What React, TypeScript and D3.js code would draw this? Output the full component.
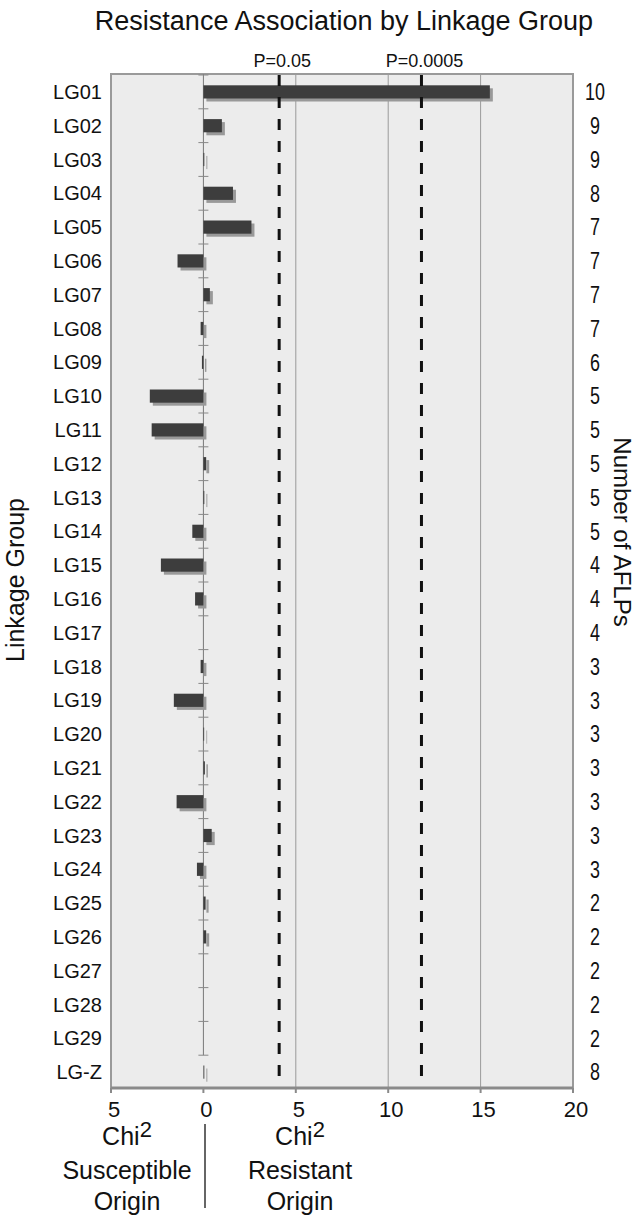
import React from 'react';
import * as d3 from 'd3';

// linkage groups, top to bottom
const groups = [
  'LG01', 'LG02', 'LG03', 'LG04', 'LG05', 'LG06', 'LG07', 'LG08', 'LG09', 'LG10',
  'LG11', 'LG12', 'LG13', 'LG14', 'LG15', 'LG16', 'LG17', 'LG18', 'LG19', 'LG20',
  'LG21', 'LG22', 'LG23', 'LG24', 'LG25', 'LG26', 'LG27', 'LG28', 'LG29', 'LG-Z',
];
// signed Chi2 (negative = susceptible origin)
const chiValues = [
  15.5, 1.0, 0.05, 1.6, 2.6, -1.4, 0.35, -0.15, -0.08, -2.9,
  -2.8, 0.15, 0.05, -0.6, -2.3, -0.45, 0, -0.15, -1.6, 0.04,
  0.08, -1.45, 0.45, -0.35, 0.12, 0.15, 0, 0, 0, 0.05,
];
const aflpCounts = [
  10, 9, 9, 8, 7, 7, 7, 7, 6, 5,
  5, 5, 5, 5, 4, 4, 4, 3, 3, 3,
  3, 3, 3, 3, 2, 2, 2, 2, 2, 8,
];
const xTicks = [-5, 0, 5, 10, 15, 20];
const gridValues = [5, 10, 15];
const thresholdLabels = ['P=0.05', 'P=0.0005'];
const thresholdValues = [4.1, 11.8];

const font = '"Liberation Sans", Arial, sans-serif';

const App = () => {
  const W = 640;
  const H = 1216;
  const plot = { left: 111, right: 573, top: 74, bottom: 1088 };

  const x = d3.scaleLinear().domain([-5, 20]).range([plot.left, plot.right]);
  const y = d3.scaleBand<string>().domain(groups).range([75, 1089]).padding(0);
  const bw = y.bandwidth();
  const barH = bw * 0.39;
  const x0 = x(0);

  return (
    <svg width={W} height={H} style={{ position: 'absolute', left: 0, top: 0, display: 'block' }} fontFamily={font}>
      <rect x={0} y={0} width={W} height={H} fill="#fff" />

      <text x={344} y={30} textAnchor="middle" fontSize={27} fill="#111">
        Resistance Association by Linkage Group
      </text>

      {/* plot background */}
      <rect x={plot.left} y={plot.top} width={plot.right - plot.left} height={plot.bottom - plot.top}
        fill="#ececec" stroke="#9a9a9a" strokeWidth={2} />

      {gridValues.map(v => (
        <line key={v} x1={x(v)} x2={x(v)} y1={plot.top} y2={plot.bottom} stroke="#9a9a9a" strokeWidth={1} />
      ))}

      {/* zero axis with category ticks */}
      <line x1={x0} x2={x0} y1={plot.top} y2={y('LG-Z')} stroke="#777" strokeWidth={1} />
      {groups.map(g => (
        <line key={g} x1={x0 - 5} x2={x0 + 5} y1={y(g)} y2={y(g)} stroke="#888" strokeWidth={1} />
      ))}

      {/* bars with drop shadow */}
      {groups.map((g, i) => {
        const v = chiValues[i];
        if (v === 0) return null;
        const bx = Math.min(x(v), x0);
        const w = Math.abs(x(v) - x0);
        const by = (y(g) as number) + (bw - barH) / 2;
        return (
          <g key={g}>
            <rect x={bx + 3} y={by + 3} width={w} height={barH} fill="#999" />
            <rect x={bx} y={by} width={w} height={barH} fill="#3d3d3d" />
          </g>
        );
      })}

      {/* significance thresholds */}
      {thresholdValues.map((v, i) => (
        <g key={thresholdLabels[i]}>
          <line x1={x(v)} x2={x(v)} y1={plot.top + 1} y2={plot.bottom} stroke="#111" strokeWidth={3}
            strokeDasharray="11 11" />
          <text x={x(v) + 3} y={67} textAnchor="middle" fontSize={18} fill="#111">{thresholdLabels[i]}</text>
        </g>
      ))}

      {/* bottom axis */}
      <line x1={plot.left} x2={plot.right} y1={plot.bottom} y2={plot.bottom} stroke="#8a8a8a" strokeWidth={3} />
      {xTicks.map(t => (
        <g key={t}>
          <line x1={x(t)} x2={x(t)} y1={plot.bottom} y2={plot.bottom + 5} stroke="#8a8a8a" strokeWidth={2} />
          <text x={x(t) + 3} y={1117} textAnchor="middle" fontSize={22} fill="#111">{Math.abs(t)}</text>
        </g>
      ))}

      {/* category labels */}
      {groups.map(g => (
        <text key={g} x={102} y={(y(g) as number) + bw / 2} dy="0.35em" textAnchor="end" fontSize={20} fill="#111">{g}</text>
      ))}

      {/* AFLP counts on the right */}
      {groups.map((g, i) => (
        <text key={g} transform={`translate(595,${(y(g) as number) + bw / 2}) scale(0.78,1)`} dy="0.36em"
          textAnchor="middle" fontSize={23} fill="#111">{aflpCounts[i]}</text>
      ))}

      <text transform={`translate(24,580) rotate(-90)`} textAnchor="middle" fontSize={25} fill="#111">
        Linkage Group
      </text>
      <text transform={`translate(614,532) rotate(90)`} textAnchor="middle" fontSize={24} fill="#111">
        Number of AFLPs
      </text>

      {/* origin notes under the axis */}
      <g fontSize={25} fill="#111" textAnchor="middle">
        <text x={127} y={1145}>Chi<tspan fontSize={22} dy={-8}>2</tspan></text>
        <text x={127} y={1179}>Susceptible</text>
        <text x={127} y={1210}>Origin</text>
        <text x={300} y={1145}>Chi<tspan fontSize={22} dy={-8}>2</tspan></text>
        <text x={300} y={1179}>Resistant</text>
        <text x={300} y={1210}>Origin</text>
      </g>
      <line x1={205} x2={205} y1={1124} y2={1208} stroke="#333" strokeWidth={1.5} />
    </svg>
  );
};

export default App;
